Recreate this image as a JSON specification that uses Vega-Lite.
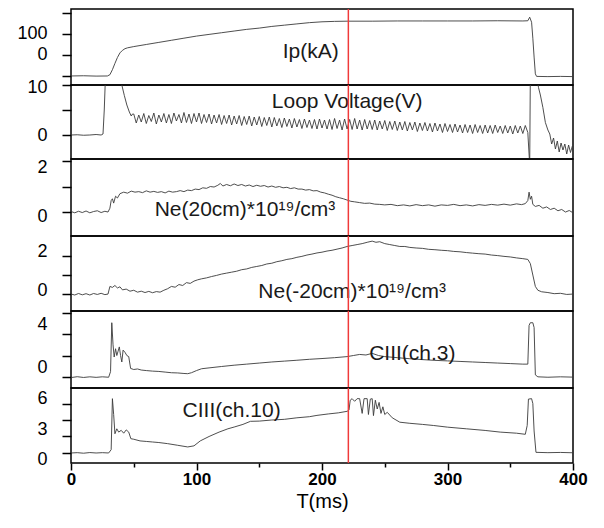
{
"$schema": "https://vega.github.io/schema/vega-lite/v6.json",
"background": "white",
"padding": {"left": 16, "top": 7, "right": 10, "bottom": 5},
"spacing": 0,
"bounds": "flush",
"config": {
  "concat": {"spacing": 0},
  "view": {"stroke": "black", "strokeWidth": 1.5},
  "axis": {"labelFont": "Liberation Sans", "labelColor": "black", "tickColor": "black", "tickWidth": 1.5, "grid": false, "domain": false, "labelFlush": false, "labelOverlap": false, "labelBound": false, "titleFont": "Liberation Sans", "titleColor": "black"},
  "text": {"font": "Liberation Sans", "fontSize": 21, "color": "#1a1a1a", "align": "center", "baseline": "middle"}
},
"datasets": {
  "marker": [{"t": 221}],
  "labels": [
    {"p": 1, "t": 191, "v": 57, "s": "Ip(kA)"},
    {"p": 2, "t": 220, "v": 6.6, "s": "Loop Voltage(V)"},
    {"p": 3, "t": 138.6, "v": 0.08, "s": "Ne(20cm)*10¹⁹/cm³"},
    {"p": 4, "t": 224, "v": 0.1, "s": "Ne(-20cm)*10¹⁹/cm³"},
    {"p": 5, "t": 272, "v": 2.14, "s": "CIII(ch.3)"},
    {"p": 6, "t": 128, "v": 3.8, "s": "CIII(ch.10)"}
  ],
  "ip": [
    {"t":0,"v":0},{"t":10,"v":0.5},{"t":20,"v":-0.3},{"t":29,"v":0},{"t":31,"v":3},{"t":33,"v":15},{"t":35,"v":30},{"t":37,"v":44},{"t":39,"v":55},{"t":41,"v":61},{"t":43,"v":65},{"t":45,"v":67},{"t":50,"v":70},{"t":60,"v":75},{"t":70,"v":80},{"t":80,"v":85},{"t":90,"v":90},{"t":100,"v":95},{"t":110,"v":99},{"t":120,"v":103},{"t":130,"v":107},{"t":140,"v":111},{"t":150,"v":114},{"t":160,"v":118},{"t":170,"v":121},{"t":180,"v":124},{"t":190,"v":127},{"t":200,"v":129},{"t":210,"v":130},{"t":220,"v":130.5},{"t":240,"v":130.5},{"t":260,"v":131},{"t":280,"v":131},{"t":300,"v":131},{"t":320,"v":131},{"t":340,"v":131.5},{"t":360,"v":131},{"t":364,"v":131.5},{"t":365.5,"v":140},{"t":367,"v":128},{"t":368,"v":90},{"t":369,"v":45},{"t":370,"v":5},{"t":371,"v":-1},{"t":380,"v":-1.5},{"t":390,"v":-1},{"t":400,"v":-1.5}
  ],
  "vloop": [
    {"t":0,"v":0},{"t":5,"v":0.05},{"t":10,"v":-0.05},{"t":15,"v":0},{"t":20,"v":0.1},{"t":24,"v":0},{"t":25.5,"v":0.2},{"t":26.5,"v":5},{"t":27.5,"v":12},{"t":39,"v":12},{"t":40.5,"v":10},{"t":42.5,"v":7.9},{"t":44.5,"v":6},{"t":46.5,"v":4.6},{"t":48,"v":3.8},{"t":49,"v":4.2},
    {"t":50,"v":4.2},{"t":52,"v":2.4},{"t":54,"v":4.0},{"t":56,"v":2.6},{"t":58,"v":4.3},{"t":60,"v":2.3},{"t":62,"v":3.9},{"t":64,"v":2.7},{"t":66,"v":4.4},{"t":68,"v":2.2},{"t":70,"v":4.0},{"t":72,"v":2.6},{"t":74,"v":4.3},{"t":76,"v":2.4},{"t":78,"v":4.1},{"t":80,"v":2.3},{"t":82,"v":4.4},{"t":84,"v":2.8},{"t":86,"v":4.1},{"t":88,"v":2.4},{"t":90,"v":4.5},{"t":92,"v":2.5},{"t":94,"v":4.2},{"t":96,"v":2.3},{"t":98,"v":4.3},{"t":100,"v":2.6},{"t":102,"v":4.4},{"t":104,"v":2.3},{"t":106,"v":4.1},{"t":108,"v":2.5},{"t":110,"v":4.2},{"t":112,"v":2.2},{"t":114,"v":4.0},{"t":116,"v":2.4},{"t":118,"v":4.1},{"t":120,"v":2.1},{"t":122,"v":3.9},{"t":124,"v":2.3},{"t":126,"v":4.0},{"t":128,"v":2.0},{"t":130,"v":3.8},{"t":132,"v":2.2},{"t":134,"v":3.9},{"t":136,"v":1.9},{"t":138,"v":3.7},{"t":140,"v":2.1},{"t":142,"v":3.8},{"t":144,"v":1.8},{"t":146,"v":3.6},{"t":148,"v":2.0},{"t":150,"v":3.7},{"t":152,"v":1.7},{"t":154,"v":3.5},{"t":156,"v":1.9},{"t":158,"v":3.6},{"t":160,"v":1.6},{"t":162,"v":3.5},{"t":164,"v":1.8},{"t":166,"v":3.3},{"t":168,"v":1.5},{"t":170,"v":3.4},{"t":172,"v":1.7},{"t":174,"v":3.2},{"t":176,"v":1.4},{"t":178,"v":3.3},{"t":180,"v":1.6},{"t":182,"v":3.1},{"t":184,"v":1.3},{"t":186,"v":3.2},{"t":188,"v":1.5},{"t":190,"v":3.0},{"t":192,"v":1.3},{"t":194,"v":3.1},{"t":196,"v":1.2},{"t":198,"v":3.2},{"t":200,"v":1.4},{"t":202,"v":3.0},{"t":204,"v":1.2},{"t":206,"v":3.1},{"t":208,"v":1.1},{"t":210,"v":3.3},{"t":212,"v":1.3},{"t":214,"v":3.0},{"t":216,"v":1.0},{"t":218,"v":3.2},{"t":220,"v":1.2},{"t":222,"v":3.1},{"t":224,"v":1.1},{"t":226,"v":3.3},{"t":228,"v":1.2},{"t":230,"v":3.0},{"t":232,"v":1.0},{"t":234,"v":3.1},{"t":236,"v":1.2},{"t":238,"v":2.9},{"t":240,"v":1.1},{"t":242,"v":3.0},{"t":244,"v":1.0},{"t":246,"v":2.8},{"t":248,"v":1.2},{"t":250,"v":2.9},{"t":252,"v":0.9},{"t":254,"v":2.7},{"t":256,"v":1.1},{"t":258,"v":2.8},{"t":260,"v":0.9},{"t":262,"v":2.6},{"t":264,"v":1.0},{"t":266,"v":2.7},{"t":268,"v":0.8},{"t":270,"v":2.5},{"t":272,"v":1.0},{"t":274,"v":2.6},{"t":276,"v":0.7},{"t":278,"v":2.4},{"t":280,"v":0.9},{"t":282,"v":2.5},{"t":284,"v":0.8},{"t":286,"v":2.3},{"t":288,"v":0.6},{"t":290,"v":2.4},{"t":292,"v":0.8},{"t":294,"v":2.2},{"t":296,"v":0.5},{"t":298,"v":2.3},{"t":300,"v":0.7},{"t":302,"v":2.1},{"t":304,"v":0.5},{"t":306,"v":2.2},{"t":308,"v":0.6},{"t":310,"v":2.0},{"t":312,"v":0.4},{"t":314,"v":2.1},{"t":316,"v":0.5},{"t":318,"v":2.0},{"t":320,"v":0.3},{"t":322,"v":2.1},{"t":324,"v":0.5},{"t":326,"v":1.9},{"t":328,"v":0.3},{"t":330,"v":2.0},{"t":332,"v":0.4},{"t":334,"v":1.9},{"t":336,"v":0.3},{"t":338,"v":2.0},{"t":340,"v":0.5},{"t":342,"v":1.8},{"t":344,"v":0.3},{"t":346,"v":1.9},{"t":348,"v":0.4},{"t":350,"v":1.8},{"t":352,"v":0.2},{"t":354,"v":1.9},{"t":356,"v":0.4},{"t":358,"v":1.8},{"t":360,"v":0.3},{"t":362,"v":1.9},{"t":364,"v":0.5},
    {"t":365.5,"v":-6},{"t":366,"v":12},{"t":371,"v":12},{"t":372.5,"v":9.5},{"t":374,"v":8},{"t":376,"v":5.5},{"t":378,"v":2.5},{"t":380,"v":1.0},{"t":381.5,"v":0.2},{"t":383,"v":-1.8},{"t":384.5,"v":-0.6},{"t":386,"v":-2.8},{"t":387.5,"v":-1.2},{"t":389,"v":-3.4},{"t":390.5,"v":-1.6},{"t":392,"v":-3.0},{"t":393.5,"v":-1.8},{"t":395,"v":-3.8},{"t":396.5,"v":-2.0},{"t":398,"v":-3.5},{"t":399.5,"v":-2.2}
  ],
  "ne20": [
    {"t":0,"v":0.02},{"t":3,"v":-0.03},{"t":6,"v":0.03},{"t":9,"v":-0.02},{"t":12,"v":0.04},{"t":15,"v":-0.03},{"t":18,"v":0.02},{"t":21,"v":0.05},{"t":24,"v":-0.02},{"t":27,"v":0.03},{"t":29.5,"v":0},{"t":31,"v":0.15},{"t":32,"v":0.45},{"t":33,"v":0.52},{"t":34,"v":0.35},{"t":35.5,"v":0.62},{"t":37,"v":0.55},{"t":39,"v":0.72},{"t":42,"v":0.78},{"t":45,"v":0.74},{"t":48,"v":0.82},{"t":51,"v":0.78},{"t":54,"v":0.8},{"t":57,"v":0.76},{"t":60,"v":0.83},{"t":63,"v":0.78},{"t":66,"v":0.81},{"t":69,"v":0.77},{"t":72,"v":0.8},{"t":75,"v":0.75},{"t":78,"v":0.82},{"t":81,"v":0.78},{"t":84,"v":0.8},{"t":87,"v":0.84},{"t":90,"v":0.8},{"t":93,"v":0.86},{"t":96,"v":0.84},{"t":99,"v":0.9},{"t":102,"v":0.88},{"t":105,"v":0.95},{"t":108,"v":0.93},{"t":111,"v":1.0},{"t":114,"v":0.98},{"t":117,"v":1.05},{"t":119,"v":1.12},{"t":121,"v":1.02},{"t":124,"v":1.08},{"t":127,"v":1.03},{"t":130,"v":1.1},{"t":133,"v":1.04},{"t":136,"v":1.08},{"t":139,"v":1.02},{"t":142,"v":1.06},{"t":145,"v":1.0},{"t":148,"v":1.05},{"t":151,"v":1.01},{"t":154,"v":1.04},{"t":157,"v":0.98},{"t":160,"v":1.02},{"t":163,"v":0.97},{"t":166,"v":1.0},{"t":169,"v":0.95},{"t":172,"v":0.97},{"t":175,"v":0.92},{"t":178,"v":0.95},{"t":181,"v":0.9},{"t":184,"v":0.9},{"t":187,"v":0.86},{"t":190,"v":0.88},{"t":193,"v":0.83},{"t":196,"v":0.84},{"t":199,"v":0.78},{"t":202,"v":0.75},{"t":205,"v":0.7},{"t":208,"v":0.66},{"t":211,"v":0.6},{"t":214,"v":0.56},{"t":217,"v":0.52},{"t":220,"v":0.47},{"t":223,"v":0.42},{"t":226,"v":0.4},{"t":230,"v":0.37},{"t":234,"v":0.34},{"t":238,"v":0.35},{"t":242,"v":0.31},{"t":246,"v":0.3},{"t":250,"v":0.28},{"t":255,"v":0.3},{"t":260,"v":0.25},{"t":265,"v":0.28},{"t":270,"v":0.24},{"t":275,"v":0.29},{"t":280,"v":0.25},{"t":285,"v":0.28},{"t":290,"v":0.23},{"t":295,"v":0.28},{"t":300,"v":0.26},{"t":305,"v":0.3},{"t":310,"v":0.25},{"t":315,"v":0.28},{"t":320,"v":0.24},{"t":325,"v":0.29},{"t":330,"v":0.26},{"t":335,"v":0.3},{"t":340,"v":0.27},{"t":345,"v":0.31},{"t":350,"v":0.27},{"t":355,"v":0.32},{"t":359,"v":0.29},{"t":362,"v":0.33},{"t":364,"v":0.45},{"t":365,"v":0.78},{"t":366,"v":0.5},{"t":367,"v":0.62},{"t":368,"v":0.3},{"t":370,"v":0.22},{"t":373,"v":0.26},{"t":376,"v":0.15},{"t":379,"v":0.2},{"t":382,"v":0.1},{"t":385,"v":0.15},{"t":388,"v":0.05},{"t":391,"v":0.1},{"t":394,"v":0.0},{"t":397,"v":0.06},{"t":400,"v":-0.03}
  ],
  "nem20": [
    {"t":0,"v":0},{"t":3,"v":-0.05},{"t":6,"v":0.03},{"t":9,"v":-0.04},{"t":12,"v":0.02},{"t":15,"v":-0.05},{"t":18,"v":0.03},{"t":21,"v":-0.02},{"t":24,"v":0.04},{"t":27,"v":-0.03},{"t":29.5,"v":0},{"t":31,"v":0.4},{"t":33,"v":0.35},{"t":35,"v":0.45},{"t":37,"v":0.32},{"t":39,"v":0.38},{"t":41,"v":0.22},{"t":44,"v":0.26},{"t":47,"v":0.15},{"t":50,"v":0.2},{"t":53,"v":0.1},{"t":56,"v":0.15},{"t":59,"v":0.08},{"t":62,"v":0.14},{"t":65,"v":0.07},{"t":68,"v":0.13},{"t":71,"v":0.1},{"t":74,"v":0.2},{"t":77,"v":0.28},{"t":80,"v":0.4},{"t":83,"v":0.36},{"t":86,"v":0.5},{"t":89,"v":0.45},{"t":92,"v":0.6},{"t":95,"v":0.56},{"t":98,"v":0.68},{"t":101,"v":0.75},{"t":104,"v":0.8},{"t":108,"v":0.85},{"t":112,"v":0.92},{"t":116,"v":0.98},{"t":120,"v":1.05},{"t":124,"v":1.1},{"t":128,"v":1.15},{"t":132,"v":1.2},{"t":136,"v":1.28},{"t":140,"v":1.32},{"t":144,"v":1.4},{"t":148,"v":1.45},{"t":152,"v":1.5},{"t":156,"v":1.58},{"t":160,"v":1.62},{"t":164,"v":1.7},{"t":168,"v":1.75},{"t":172,"v":1.82},{"t":176,"v":1.86},{"t":180,"v":1.93},{"t":184,"v":1.98},{"t":188,"v":2.05},{"t":192,"v":2.1},{"t":196,"v":2.16},{"t":200,"v":2.2},{"t":204,"v":2.26},{"t":208,"v":2.3},{"t":212,"v":2.36},{"t":216,"v":2.42},{"t":220,"v":2.5},{"t":224,"v":2.55},{"t":228,"v":2.6},{"t":232,"v":2.65},{"t":236,"v":2.72},{"t":240,"v":2.78},{"t":243,"v":2.72},{"t":246,"v":2.75},{"t":250,"v":2.65},{"t":254,"v":2.6},{"t":258,"v":2.55},{"t":262,"v":2.5},{"t":266,"v":2.5},{"t":270,"v":2.45},{"t":275,"v":2.42},{"t":280,"v":2.4},{"t":285,"v":2.35},{"t":290,"v":2.33},{"t":295,"v":2.3},{"t":300,"v":2.28},{"t":305,"v":2.24},{"t":310,"v":2.22},{"t":315,"v":2.18},{"t":320,"v":2.15},{"t":325,"v":2.12},{"t":330,"v":2.1},{"t":335,"v":2.05},{"t":340,"v":2.02},{"t":345,"v":1.98},{"t":350,"v":1.95},{"t":355,"v":1.9},{"t":360,"v":1.86},{"t":364,"v":1.82},{"t":366,"v":1.6},{"t":368,"v":1.0},{"t":370,"v":0.4},{"t":372,"v":0.2},{"t":375,"v":0.12},{"t":380,"v":0.08},{"t":385,"v":0.02},{"t":390,"v":0.04},{"t":395,"v":-0.02},{"t":400,"v":0.0}
  ],
  "c3": [
    {"t":0,"v":-0.05},{"t":5,"v":0.03},{"t":10,"v":-0.04},{"t":15,"v":0.02},{"t":20,"v":-0.03},{"t":25,"v":0.02},{"t":30,"v":-0.02},{"t":31.5,"v":0.5},{"t":32.5,"v":5.05},{"t":33.5,"v":3.0},{"t":34.4,"v":1.86},{"t":35.5,"v":2.63},{"t":36.5,"v":2.0},{"t":37.5,"v":2.4},{"t":38.5,"v":2.8},{"t":39.5,"v":2.0},{"t":40.5,"v":1.4},{"t":41.5,"v":2.5},{"t":43,"v":2.3},{"t":44.5,"v":2.0},{"t":46,"v":1.9},{"t":47.5,"v":0.8},{"t":50,"v":0.7},{"t":53,"v":0.75},{"t":56,"v":0.65},{"t":60,"v":0.6},{"t":65,"v":0.55},{"t":70,"v":0.52},{"t":75,"v":0.46},{"t":80,"v":0.4},{"t":85,"v":0.38},{"t":90,"v":0.33},{"t":93,"v":0.31},{"t":96,"v":0.4},{"t":100,"v":0.6},{"t":104,"v":0.77},{"t":110,"v":0.85},{"t":120,"v":0.98},{"t":130,"v":1.1},{"t":140,"v":1.2},{"t":150,"v":1.3},{"t":160,"v":1.4},{"t":170,"v":1.48},{"t":180,"v":1.56},{"t":190,"v":1.65},{"t":200,"v":1.72},{"t":210,"v":1.8},{"t":220,"v":1.9},{"t":225,"v":2.0},{"t":230,"v":2.1},{"t":235,"v":2.05},{"t":240,"v":2.2},{"t":245,"v":2.0},{"t":250,"v":1.9},{"t":260,"v":1.8},{"t":270,"v":1.7},{"t":280,"v":1.62},{"t":290,"v":1.55},{"t":300,"v":1.5},{"t":310,"v":1.45},{"t":320,"v":1.4},{"t":330,"v":1.35},{"t":340,"v":1.3},{"t":350,"v":1.25},{"t":360,"v":1.2},{"t":364,"v":1.2},{"t":365,"v":4.8},{"t":366,"v":5.05},{"t":368,"v":5.05},{"t":369,"v":4.6},{"t":370,"v":0.2},{"t":372,"v":0.02},{"t":380,"v":-0.02},{"t":390,"v":0.02},{"t":400,"v":-0.01}
  ],
  "c10": [
    {"t":0,"v":0},{"t":5,"v":0.03},{"t":10,"v":-0.02},{"t":15,"v":0.04},{"t":20,"v":0},{"t":25,"v":0.03},{"t":30,"v":0},{"t":32,"v":0.3},{"t":33,"v":4.94},{"t":34,"v":3.5},{"t":35,"v":1.75},{"t":36.5,"v":2.2},{"t":38,"v":1.9},{"t":40,"v":2.06},{"t":42,"v":1.8},{"t":44,"v":2.1},{"t":46,"v":1.9},{"t":47.7,"v":1.3},{"t":50,"v":1.25},{"t":55,"v":1.1},{"t":60,"v":1.05},{"t":65,"v":1.0},{"t":70,"v":0.95},{"t":77,"v":0.85},{"t":85,"v":0.7},{"t":93,"v":0.55},{"t":98,"v":0.65},{"t":103,"v":1.1},{"t":110,"v":1.5},{"t":118,"v":1.9},{"t":125,"v":2.2},{"t":130,"v":2.36},{"t":137,"v":2.6},{"t":143,"v":2.88},{"t":150,"v":2.9},{"t":160,"v":3.0},{"t":170,"v":3.06},{"t":180,"v":3.2},{"t":190,"v":3.3},{"t":196,"v":3.42},{"t":205,"v":3.55},{"t":213,"v":3.65},{"t":220,"v":3.79},{"t":221.5,"v":3.9},{"t":222.5,"v":4.8},{"t":224,"v":4.94},{"t":226,"v":4.7},{"t":228,"v":4.94},{"t":230,"v":4.94},{"t":232,"v":3.6},{"t":233.5,"v":4.94},{"t":236,"v":4.94},{"t":237,"v":3.5},{"t":238.5,"v":4.9},{"t":240,"v":4.94},{"t":241,"v":3.4},{"t":242.5,"v":4.8},{"t":244,"v":4.0},{"t":245.5,"v":4.6},{"t":247,"v":3.6},{"t":248.5,"v":4.2},{"t":250,"v":3.5},{"t":252,"v":3.7},{"t":256,"v":3.2},{"t":262,"v":2.8},{"t":270,"v":2.7},{"t":280,"v":2.6},{"t":289,"v":2.5},{"t":300,"v":2.35},{"t":315,"v":2.2},{"t":330,"v":2.05},{"t":342,"v":1.9},{"t":355,"v":1.8},{"t":362,"v":1.7},{"t":363.5,"v":2.5},{"t":364.5,"v":4.9},{"t":367,"v":4.94},{"t":368,"v":4.5},{"t":369,"v":2},{"t":370.5,"v":0.06},{"t":380,"v":0.03},{"t":390,"v":0.05},{"t":400,"v":0.02}
  ]
},
"vconcat": [
  {"width": 502, "height": 76, "resolve": {"axis": {"y": "independent"}}, "layer": [
    {"data": {"name": "ip"}, "mark": {"type": "line", "clip": true, "color": "#3a3a3a", "strokeWidth": 0.9}, "encoding": {
      "x": {"field": "t", "type": "quantitative", "scale": {"domain": [0, 400]}, "axis": null},
      "y": {"field": "v", "type": "quantitative", "scale": {"domain": [-21.5, 159.5], "nice": false, "zero": false},
        "axis": {"orient": "left", "title": null, "values": [0, 50, 100, 150], "tickSize": 9, "labels": false}}}},
    {"data": {"name": "labels"}, "transform": [{"filter": "datum.p == 1"}], "mark": "text", "encoding": {
      "x": {"field": "t", "type": "quantitative", "axis": null},
      "y": {"field": "v", "type": "quantitative", "axis": {"orient": "left", "title": null, "values": [50, 100], "ticks": false, "tickSize": 0, "labelPadding": 24, "labelFontSize": 18, "labelExpr": "datum.value > 75 ? '100' : '0'"}},
      "text": {"field": "s"}}},
    {"data": {"name": "marker"}, "mark": {"type": "rule", "color": "#f03a3a", "strokeWidth": 1.5}, "encoding": {"x": {"field": "t", "type": "quantitative", "axis": null}}}
  ]},
  {"width": 502, "height": 74, "resolve": {"axis": {"y": "independent"}}, "layer": [
    {"data": {"name": "vloop"}, "mark": {"type": "line", "clip": true, "color": "#3a3a3a", "strokeWidth": 0.9}, "encoding": {
      "x": {"field": "t", "type": "quantitative", "scale": {"domain": [0, 400]}, "axis": null},
      "y": {"field": "v", "type": "quantitative", "scale": {"domain": [-4.8, 10], "nice": false, "zero": false},
        "axis": {"orient": "left", "title": null, "values": [0, 5, 10], "tickSize": 9, "labels": false}}}},
    {"data": {"name": "labels"}, "transform": [{"filter": "datum.p == 2"}], "mark": "text", "encoding": {
      "x": {"field": "t", "type": "quantitative", "axis": null},
      "y": {"field": "v", "type": "quantitative", "axis": {"orient": "left", "title": null, "values": [0, 9.6], "ticks": false, "tickSize": 0, "labelPadding": 24, "labelFontSize": 18, "labelExpr": "datum.value > 5 ? '10' : '0'"}},
      "text": {"field": "s"}}},
    {"data": {"name": "marker"}, "mark": {"type": "rule", "color": "#f03a3a", "strokeWidth": 1.5}, "encoding": {"x": {"field": "t", "type": "quantitative", "axis": null}}}
  ]},
  {"width": 502, "height": 77, "resolve": {"axis": {"y": "independent"}}, "layer": [
    {"data": {"name": "ne20"}, "mark": {"type": "line", "clip": true, "color": "#3a3a3a", "strokeWidth": 0.9}, "encoding": {
      "x": {"field": "t", "type": "quantitative", "scale": {"domain": [0, 400]}, "axis": null},
      "y": {"field": "v", "type": "quantitative", "scale": {"domain": [-0.94, 2.08], "nice": false, "zero": false},
        "axis": {"orient": "left", "title": null, "values": [0, 1, 2], "tickSize": 9, "labels": false}}}},
    {"data": {"name": "labels"}, "transform": [{"filter": "datum.p == 3"}], "mark": "text", "encoding": {
      "x": {"field": "t", "type": "quantitative", "axis": null},
      "y": {"field": "v", "type": "quantitative", "axis": {"orient": "left", "title": null, "values": [-0.18, 1.76], "ticks": false, "tickSize": 0, "labelPadding": 24, "labelFontSize": 18, "labelExpr": "datum.value > 1 ? '2' : '0'"}},
      "text": {"field": "s"}}},
    {"data": {"name": "marker"}, "mark": {"type": "rule", "color": "#f03a3a", "strokeWidth": 1.5}, "encoding": {"x": {"field": "t", "type": "quantitative", "axis": null}}}
  ]},
  {"width": 502, "height": 75, "resolve": {"axis": {"y": "independent"}}, "layer": [
    {"data": {"name": "nem20"}, "mark": {"type": "line", "clip": true, "color": "#3a3a3a", "strokeWidth": 0.9}, "encoding": {
      "x": {"field": "t", "type": "quantitative", "scale": {"domain": [0, 400]}, "axis": null},
      "y": {"field": "v", "type": "quantitative", "scale": {"domain": [-0.89, 3.05], "nice": false, "zero": false},
        "axis": {"orient": "left", "title": null, "values": [0, 1, 2], "tickSize": 9, "labels": false}}}},
    {"data": {"name": "labels"}, "transform": [{"filter": "datum.p == 4"}], "mark": "text", "encoding": {
      "x": {"field": "t", "type": "quantitative", "axis": null},
      "y": {"field": "v", "type": "quantitative", "axis": {"orient": "left", "title": null, "values": [0.18, 2.21], "ticks": false, "tickSize": 0, "labelPadding": 24, "labelFontSize": 18, "labelExpr": "datum.value > 1 ? '2' : '0'"}},
      "text": {"field": "s"}}},
    {"data": {"name": "marker"}, "mark": {"type": "rule", "color": "#f03a3a", "strokeWidth": 1.5}, "encoding": {"x": {"field": "t", "type": "quantitative", "axis": null}}}
  ]},
  {"width": 502, "height": 77, "resolve": {"axis": {"y": "independent"}}, "layer": [
    {"data": {"name": "c3"}, "mark": {"type": "line", "clip": true, "color": "#3a3a3a", "strokeWidth": 0.9}, "encoding": {
      "x": {"field": "t", "type": "quantitative", "scale": {"domain": [0, 400]}, "axis": null},
      "y": {"field": "v", "type": "quantitative", "scale": {"domain": [-1.02, 6.14], "nice": false, "zero": false},
        "axis": {"orient": "left", "title": null, "values": [0, 2, 4, 6], "tickSize": 9, "labels": false}}}},
    {"data": {"name": "labels"}, "transform": [{"filter": "datum.p == 5"}], "mark": "text", "encoding": {
      "x": {"field": "t", "type": "quantitative", "axis": null},
      "y": {"field": "v", "type": "quantitative", "axis": {"orient": "left", "title": null, "values": [0.88, 4.84], "ticks": false, "tickSize": 0, "labelPadding": 24, "labelFontSize": 18, "labelExpr": "datum.value > 2 ? '4' : '0'"}},
      "text": {"field": "s"}}},
    {"data": {"name": "marker"}, "mark": {"type": "rule", "color": "#f03a3a", "strokeWidth": 1.5}, "encoding": {"x": {"field": "t", "type": "quantitative", "axis": null}}}
  ]},
  {"width": 502, "height": 75, "resolve": {"axis": {"y": "independent"}}, "layer": [
    {"data": {"name": "c10"}, "mark": {"type": "line", "clip": true, "color": "#3a3a3a", "strokeWidth": 0.9}, "encoding": {
      "x": {"field": "t", "type": "quantitative", "scale": {"domain": [0, 400]},
        "axis": {"title": "T(ms)", "titleFontSize": 20, "titleFontWeight": "normal", "titlePadding": 4, "values": [0, 50, 100, 150, 200, 250, 300, 350, 400], "tickSize": {"condition": {"test": "datum.value % 100 == 0", "value": 7}, "value": 4}, "labelPadding": 1, "labelFontSize": 17, "labelFontWeight": "bold", "labelExpr": "datum.value % 100 == 0 ? datum.label : ''"}},
      "y": {"field": "v", "type": "quantitative", "scale": {"domain": [-0.91, 5.91], "nice": false, "zero": false},
        "axis": {"orient": "left", "title": null, "values": [0, 1.5, 3, 4.5], "tickSize": 9, "labels": false}}}},
    {"data": {"name": "labels"}, "transform": [{"filter": "datum.p == 6"}], "mark": "text", "encoding": {
      "x": {"field": "t", "type": "quantitative"},
      "y": {"field": "v", "type": "quantitative", "axis": {"orient": "left", "title": null, "values": [-0.55, 2.18, 4.91], "ticks": false, "tickSize": 0, "labelPadding": 24, "labelFontSize": 18, "labelExpr": "datum.value > 4 ? '6' : datum.value > 1 ? '3' : '0'"}},
      "text": {"field": "s"}}},
    {"data": {"name": "marker"}, "mark": {"type": "rule", "color": "#f03a3a", "strokeWidth": 1.5}, "encoding": {"x": {"field": "t", "type": "quantitative"}}}
  ]}
]
}
